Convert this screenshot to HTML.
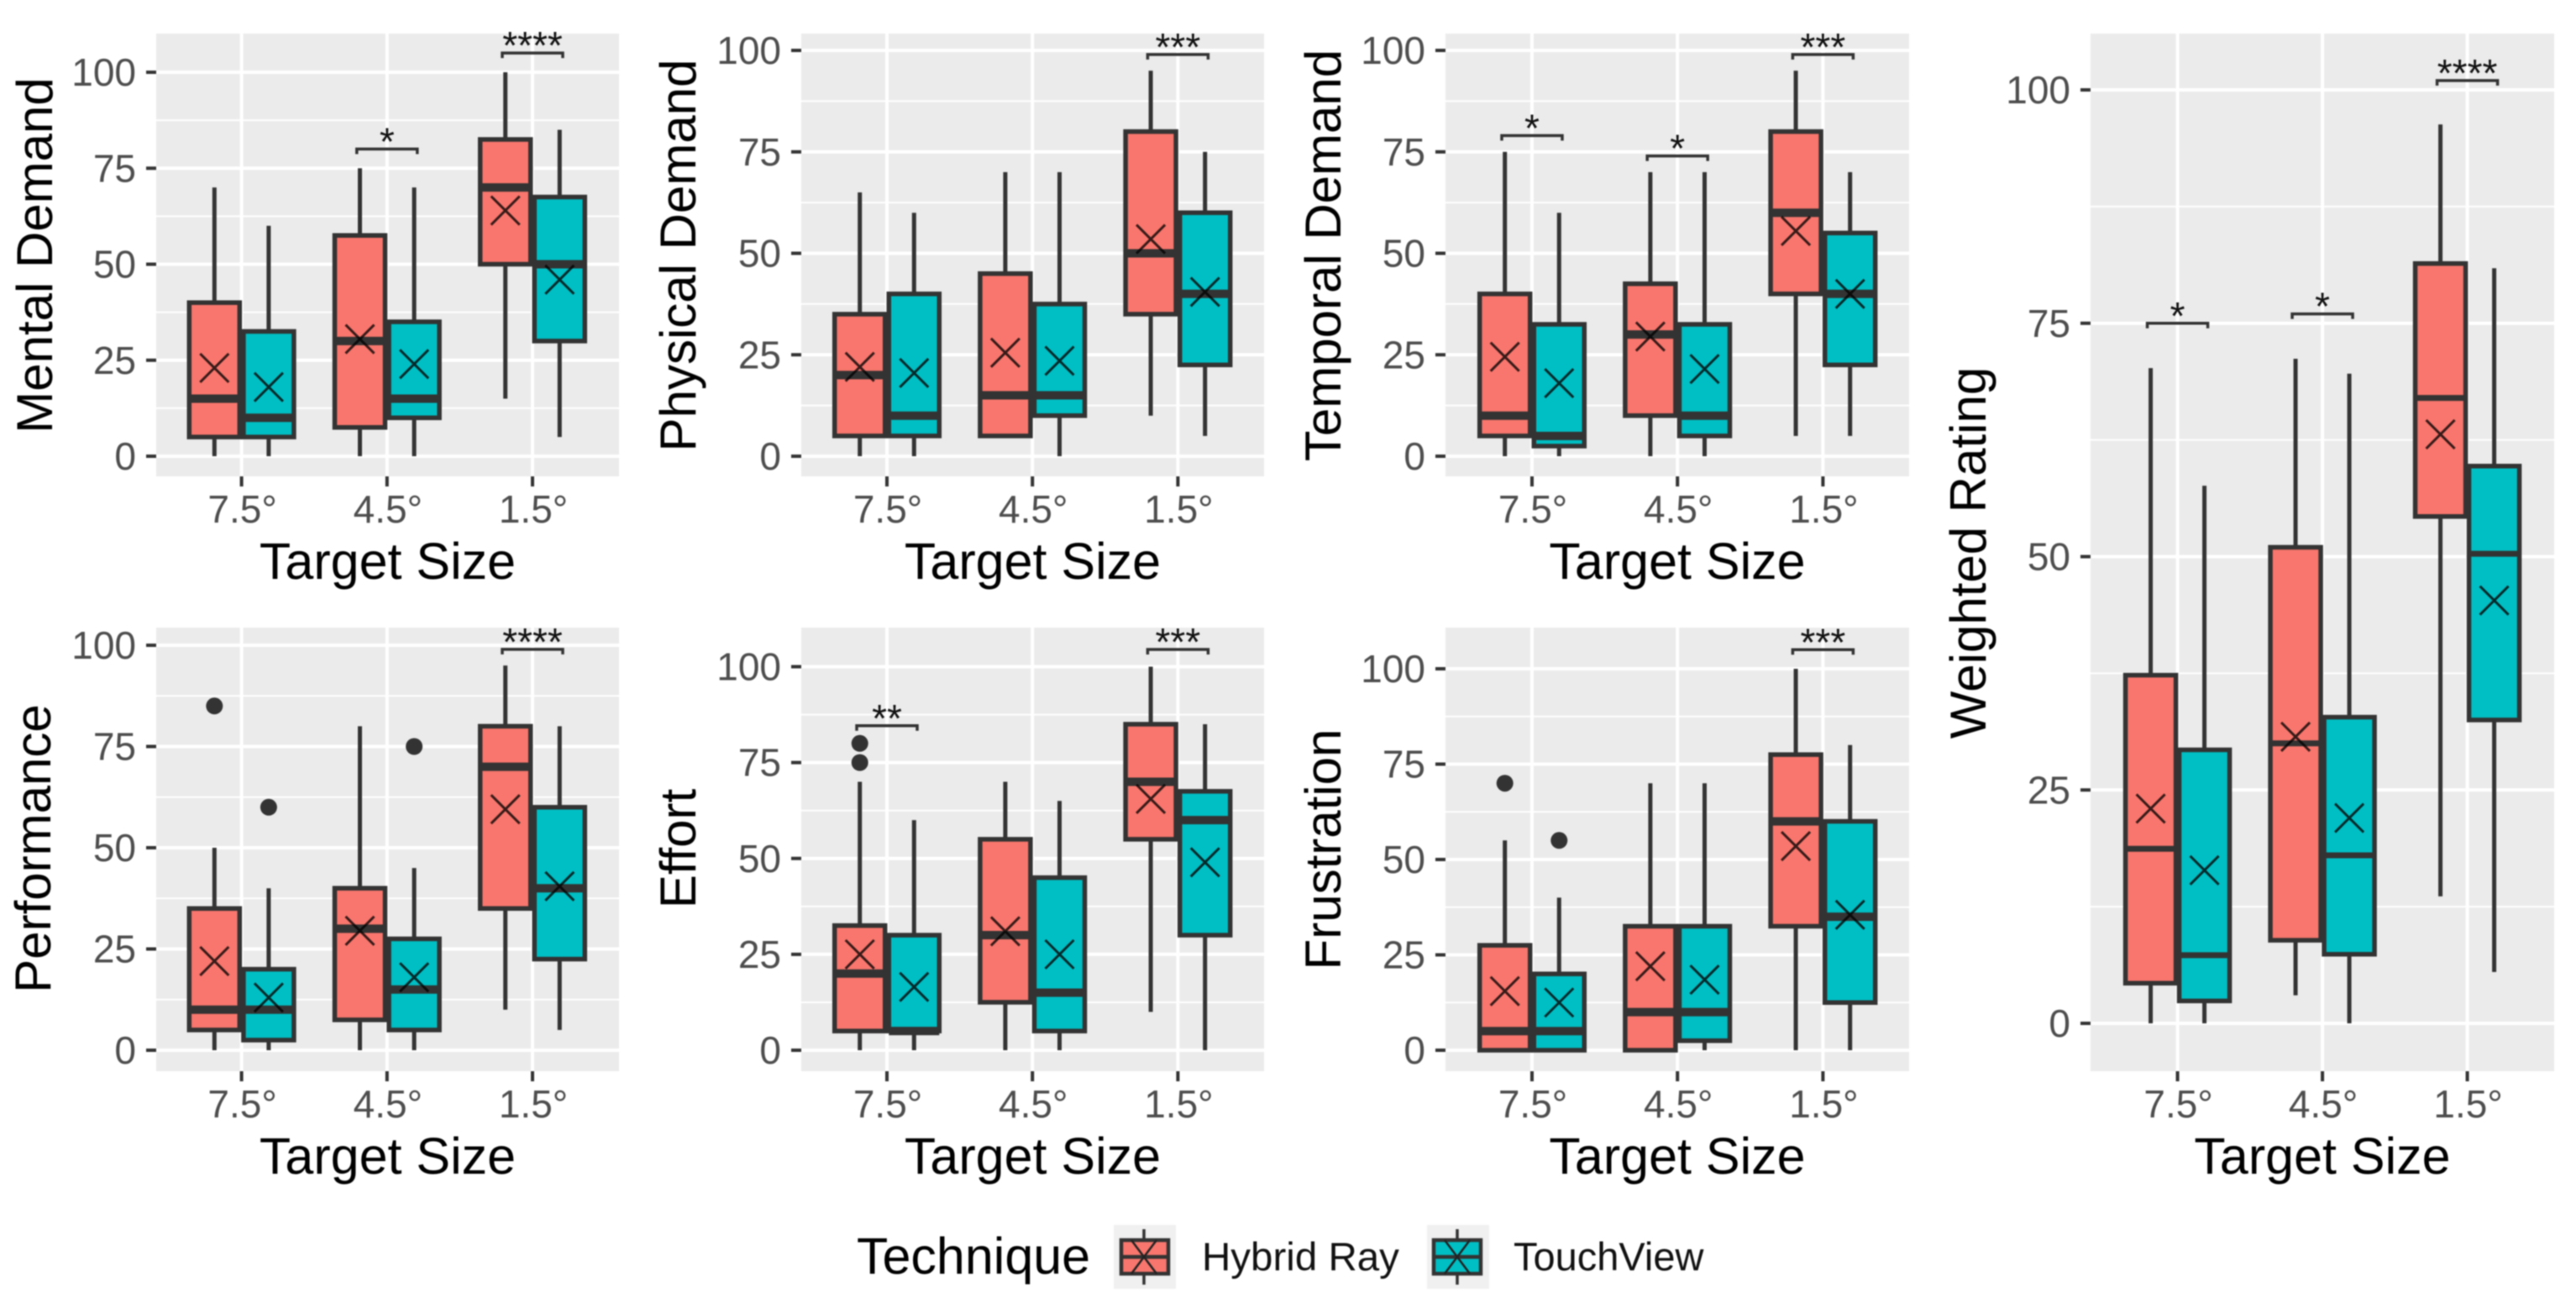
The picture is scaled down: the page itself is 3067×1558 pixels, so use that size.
<!DOCTYPE html>
<html lang="en">
<head>
<meta charset="utf-8">
<title>Workload ratings by target size and technique</title>
<style>
html,body{margin:0;padding:0;background:#fff;}
svg{display:block;font-family:"Liberation Sans",sans-serif;filter:blur(0.7px);}
</style>
</head>
<body>
<svg id="chart" xmlns="http://www.w3.org/2000/svg" width="3067" height="1558" viewBox="0 0 3067 1558">
  <rect x="0" y="0" width="3067" height="1558" fill="#fff"/>
  <g id="panels"></g>
  <g>
    <text x="1020" y="1516" font-size="61" fill="#000">Technique</text>
    <g>
      <rect x="1326" y="1458" width="74" height="76" fill="#f0f0f0"/>
      <line x1="1362" x2="1362" y1="1463" y2="1529" stroke="#333" stroke-width="3.5"/>
      <rect x="1335" y="1476" width="56" height="40" fill="#F8766D" stroke="#333" stroke-width="4.5"/>
      <line x1="1335" x2="1391" y1="1496" y2="1496" stroke="#333" stroke-width="4.5"/>
      <path d="M1347 1476L1377 1516M1377 1476L1347 1516" stroke="#222" stroke-width="2.5" fill="none"/>
      <text x="1431" y="1512" font-size="47.5" fill="#111">Hybrid Ray</text>
    </g>
    <g>
      <rect x="1699" y="1458" width="74" height="76" fill="#f0f0f0"/>
      <line x1="1735" x2="1735" y1="1463" y2="1529" stroke="#333" stroke-width="3.5"/>
      <rect x="1707" y="1476" width="56" height="40" fill="#00BFC4" stroke="#333" stroke-width="4.5"/>
      <line x1="1707" x2="1763" y1="1496" y2="1496" stroke="#333" stroke-width="4.5"/>
      <path d="M1720 1476L1750 1516M1750 1476L1720 1516" stroke="#222" stroke-width="2.5" fill="none"/>
      <text x="1802" y="1512" font-size="47" fill="#111">TouchView</text>
    </g>
  </g>
</svg>
<script>
/* Shared axis categories and ticks. Each series array runs:
   [Hybrid 7.5, Touch 7.5, Hybrid 4.5, Touch 4.5, Hybrid 1.5, Touch 1.5] */
const targetSizes = ['7.5°', '4.5°', '1.5°'];
const techniques = ['hybrid-ray', 'touchview'];
const yMajorTicks = [0, 25, 50, 75, 100];
const yMinorTicks = [12.5, 37.5, 62.5, 87.5];

const mentalLow = [0, 0, 0, 0, 15, 5];
const mentalQ1 = [5, 5, 7.5, 10, 50, 30];
const mentalMedian = [15, 10, 30, 15, 70, 50];
const mentalQ3 = [40, 32.5, 57.5, 35, 82.5, 67.5];
const mentalHigh = [70, 60, 75, 70, 100, 85];
const mentalMean = [23, 18, 30.5, 24, 64, 46];
const mentalOutliers = [[], [], [], [], [], []];
const mentalBracketY = [null, 80, 105];
const mentalStars = ['', '*', '****'];

const physicalLow = [0, 0, 5, 0, 10, 5];
const physicalQ1 = [5, 5, 5, 10, 35, 22.5];
const physicalMedian = [20, 10, 15, 15, 50, 40];
const physicalQ3 = [35, 40, 45, 37.5, 80, 60];
const physicalHigh = [65, 60, 70, 70, 95, 75];
const physicalMean = [22, 20.5, 25.5, 23.5, 53.5, 40.5];
const physicalOutliers = [[], [], [], [], [], []];
const physicalBracketY = [null, null, 99];
const physicalStars = ['', '', '***'];

const temporalLow = [0, 0, 0, 0, 5, 5];
const temporalQ1 = [5, 2.5, 10, 5, 40, 22.5];
const temporalMedian = [10, 5, 30, 10, 60, 40];
const temporalQ3 = [40, 32.5, 42.5, 32.5, 80, 55];
const temporalHigh = [75, 60, 70, 70, 95, 70];
const temporalMean = [24.5, 18, 29.5, 21.5, 55.5, 40];
const temporalOutliers = [[], [], [], [], [], []];
const temporalBracketY = [79, 74, 99];
const temporalStars = ['*', '*', '***'];

const performanceLow = [0, 0, 0, 0, 10, 5];
const performanceQ1 = [5, 2.5, 7.5, 5, 35, 22.5];
const performanceMedian = [10, 10, 30, 15, 70, 40];
const performanceQ3 = [35, 20, 40, 27.5, 80, 60];
const performanceHigh = [50, 40, 80, 45, 95, 80];
const performanceMean = [22, 13, 29.5, 18, 59.5, 40.5];
const performanceOutliers = [[85], [60], [], [75], [], []];
const performanceBracketY = [null, null, 99];
const performanceStars = ['', '', '****'];

const effortLow = [0, 0, 0, 0, 10, 0];
const effortQ1 = [5, 5, 12.5, 5, 55, 30];
const effortMedian = [20, 5, 30, 15, 70, 60];
const effortQ3 = [32.5, 30, 55, 45, 85, 67.5];
const effortHigh = [70, 60, 70, 65, 100, 85];
const effortMean = [25, 16.5, 31, 25, 65.5, 49];
const effortOutliers = [[75, 80], [], [], [], [], []];
const effortBracketY = [84.6, null, 104.5];
const effortStars = ['**', '', '***'];

const frustrationLow = [0, 0, 0, 0, 0, 0];
const frustrationQ1 = [0, 0, 0, 2.5, 32.5, 12.5];
const frustrationMedian = [5, 5, 10, 10, 60, 35];
const frustrationQ3 = [27.5, 20, 32.5, 32.5, 77.5, 60];
const frustrationHigh = [55, 40, 70, 70, 100, 80];
const frustrationMean = [15.5, 12.5, 22, 18.5, 53.5, 35.5];
const frustrationOutliers = [[70], [55], [], [], [], []];
const frustrationBracketY = [null, null, 105];
const frustrationStars = ['', '', '***'];

const weightedLow = [0, 0, 3, 0, 13.6, 5.5];
const weightedQ1 = [4.3, 2.4, 8.9, 7.4, 54.3, 32.5];
const weightedMedian = [18.7, 7.3, 30, 18, 67, 50.3];
const weightedQ3 = [37.3, 29.3, 51, 32.8, 81.4, 59.7];
const weightedHigh = [70.2, 57.6, 71.2, 69.6, 96.3, 80.9];
const weightedMean = [23, 16.4, 30.7, 22, 63.1, 45.3];
const weightedOutliers = [[], [], [], [], [], []];
const weightedBracketY = [75, 76, 101];
const weightedStars = ['*', '*', '****'];

const fills = {'hybrid-ray': '#F8766D', 'touchview': '#00BFC4'};
const NS = 'http://www.w3.org/2000/svg';
const root = document.getElementById('panels');

function mk(parent, tag, attrs, text) {
  const el = document.createElementNS(NS, tag);
  for (const k in attrs) el.setAttribute(k, attrs[k]);
  if (text !== undefined) el.textContent = text;
  parent.appendChild(el);
  return el;
}

function drawPanel(p) {
  const yScale = v => p.y0 + (p.y100 - p.y0) * v / 100;
  const groupX = i => p.tick0 + i * p.step;
  const dodgeX = i => groupX(Math.floor(i / 2)) + (i % 2 === 0 ? -p.dodge : p.dodge);

  const g = mk(root, 'g', {});
  
  

  const bg = mk(g, 'rect', {x: p.left, y: p.top, width: p.right - p.left, height: p.bottom - p.top, fill: '#ebebeb'});
  
  

  yMinorTicks.forEach(v => {
    const l = mk(g, 'line', {x1: p.left, x2: p.right, y1: yScale(v), y2: yScale(v), stroke: '#fff', 'stroke-width': 2});
    
    
  });
  yMajorTicks.forEach(v => {
    const y = yScale(v);
    const l = mk(g, 'line', {x1: p.left, x2: p.right, y1: y, y2: y, stroke: '#fff', 'stroke-width': 4});
    
    
    const t = mk(g, 'line', {x1: p.left - 12, x2: p.left, y1: y, y2: y, stroke: '#333', 'stroke-width': 4});
    
    
    const lab = mk(g, 'text', {x: p.left - 24, y: y + 16, 'text-anchor': 'end', 'font-size': 46, fill: '#4d4d4d'}, String(v));
    
    
  });
  targetSizes.forEach((name, i) => {
    const x = groupX(i);
    const l = mk(g, 'line', {x1: x, x2: x, y1: p.top, y2: p.bottom, stroke: '#fff', 'stroke-width': 4});
    
    
    const t = mk(g, 'line', {x1: x, x2: x, y1: p.bottom, y2: p.bottom + 12, stroke: '#333', 'stroke-width': 4});
    
    
    const lab = mk(g, 'text', {x: x + 1, y: p.bottom + 55, 'text-anchor': 'middle', 'font-size': 46, fill: '#4d4d4d'}, name);
    
    
  });

  const xt = mk(g, 'text', {x: (p.left + p.right) / 2, y: p.bottom + 122, 'text-anchor': 'middle', 'font-size': 61, fill: '#000'}, 'Target Size');
  
  
  const yt = mk(g, 'text', {transform: 'translate(' + p.titleX + ',' + p.titleY + ') rotate(-90)', 'text-anchor': 'middle', 'font-size': 60, fill: '#000'}, p.title);
  
  

  p.median.forEach((_, i) => {
    const x = dodgeX(i);
    const tech = techniques[i % 2];
    const bw = p.boxWidth;
    const box = mk(g, 'g', {});
    
    

    const w = mk(box, 'path', {d: 'M' + x + ' ' + yScale(p.high[i]) + 'V' + yScale(p.q3[i]) + 'M' + x + ' ' + yScale(p.q1[i]) + 'V' + yScale(p.low[i]), stroke: '#333', 'stroke-width': 5, fill: 'none'});
    
    

    const r = mk(box, 'rect', {x: x - bw / 2, y: yScale(p.q3[i]), width: bw, height: yScale(p.q1[i]) - yScale(p.q3[i]), fill: fills[tech], stroke: '#333', 'stroke-width': 5.5});
    
    

    const m = mk(box, 'line', {x1: x - bw / 2, x2: x + bw / 2, y1: yScale(p.median[i]), y2: yScale(p.median[i]), stroke: '#333', 'stroke-width': p.medianWidth});
    
    

    p.outliers[i].forEach(v => {
      const c = mk(box, 'circle', {cx: x, cy: yScale(v), r: 10, fill: '#333'});
      
      
    });

    const my = yScale(p.mean[i]);
    const s = 17;
    const cross = mk(box, 'path', {d: 'M' + (x - s) + ' ' + (my - s) + 'L' + (x + s) + ' ' + (my + s) + 'M' + (x + s) + ' ' + (my - s) + 'L' + (x - s) + ' ' + (my + s), stroke: '#000', 'stroke-opacity': 0.78, 'stroke-width': 3, fill: 'none'});
    
    
  });

  p.bracketY.forEach((v, i) => {
    if (v === null) return;
    const x = groupX(i);
    const y = yScale(v);
    const b = mk(g, 'path', {d: 'M' + (x - 36) + ' ' + (y + 6) + 'V' + y + 'H' + (x + 36) + 'V' + (y + 6), stroke: '#333', 'stroke-width': 3.5, fill: 'none'});
    
    
    const st = mk(g, 'text', {x: x, y: y + 7, 'text-anchor': 'middle', 'font-size': 46, fill: '#111'}, p.stars[i]);
    
    
  });
}

const topRow = {top: 40, bottom: 567, y0: 543, step: 173.2, dodge: 32.3, boxWidth: 60, medianWidth: 10};
const botRow = {top: 747, bottom: 1275, y0: 1250, step: 173.2, dodge: 32.3, boxWidth: 60, medianWidth: 10};

drawPanel(Object.assign({}, topRow, {key: 'mental-demand', title: 'Mental Demand', left: 186, right: 737, tick0: 287.6, y100: 86, titleX: 62, titleY: 304,
  low: mentalLow, q1: mentalQ1, median: mentalMedian, q3: mentalQ3, high: mentalHigh, mean: mentalMean, outliers: mentalOutliers, bracketY: mentalBracketY, stars: mentalStars}));
drawPanel(Object.assign({}, topRow, {key: 'physical-demand', title: 'Physical Demand', left: 954, right: 1505, tick0: 1056, y100: 60, titleX: 828, titleY: 304,
  low: physicalLow, q1: physicalQ1, median: physicalMedian, q3: physicalQ3, high: physicalHigh, mean: physicalMean, outliers: physicalOutliers, bracketY: physicalBracketY, stars: physicalStars}));
drawPanel(Object.assign({}, topRow, {key: 'temporal-demand', title: 'Temporal Demand', left: 1721, right: 2273, tick0: 1824, y100: 60, titleX: 1596, titleY: 304,
  low: temporalLow, q1: temporalQ1, median: temporalMedian, q3: temporalQ3, high: temporalHigh, mean: temporalMean, outliers: temporalOutliers, bracketY: temporalBracketY, stars: temporalStars}));
drawPanel(Object.assign({}, botRow, {key: 'performance', title: 'Performance', left: 186, right: 737, tick0: 287.6, y100: 768, titleX: 60, titleY: 1010,
  low: performanceLow, q1: performanceQ1, median: performanceMedian, q3: performanceQ3, high: performanceHigh, mean: performanceMean, outliers: performanceOutliers, bracketY: performanceBracketY, stars: performanceStars}));
drawPanel(Object.assign({}, botRow, {key: 'effort', title: 'Effort', left: 954, right: 1505, tick0: 1056, y100: 793.5, titleX: 828, titleY: 1010,
  low: effortLow, q1: effortQ1, median: effortMedian, q3: effortQ3, high: effortHigh, mean: effortMean, outliers: effortOutliers, bracketY: effortBracketY, stars: effortStars}));
drawPanel(Object.assign({}, botRow, {key: 'frustration', title: 'Frustration', left: 1721, right: 2273, tick0: 1824, y100: 796, titleX: 1596, titleY: 1011,
  low: frustrationLow, q1: frustrationQ1, median: frustrationMedian, q3: frustrationQ3, high: frustrationHigh, mean: frustrationMean, outliers: frustrationOutliers, bracketY: frustrationBracketY, stars: frustrationStars}));
drawPanel({top: 40, bottom: 1275, y0: 1218, step: 172.5, dodge: 32, boxWidth: 60, medianWidth: 7, key: 'weighted-rating', title: 'Weighted Rating', left: 2489, right: 3041, tick0: 2592.6, y100: 107, titleX: 2364, titleY: 658,
  low: weightedLow, q1: weightedQ1, median: weightedMedian, q3: weightedQ3, high: weightedHigh, mean: weightedMean, outliers: weightedOutliers, bracketY: weightedBracketY, stars: weightedStars});
</script>
</body>
</html>
